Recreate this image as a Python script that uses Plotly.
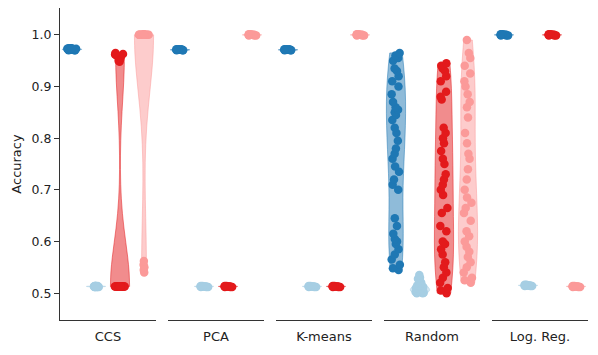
import plotly.graph_objects as go
from plotly.subplots import make_subplots

methods = ["CCS", "PCA", "K-means", "Random", "Log. Reg."]

# one colour per group (dark blue, light blue, red, light red)
colors = ["#1f78b4", "#a6cee3", "#e31a1c", "#fb9a99"]
fills = ["rgba(31,120,180,0.5)", "rgba(166,206,227,0.5)",
         "rgba(227,26,28,0.5)", "rgba(251,154,153,0.5)"]

# accuracy values, one list per group
ccs = [
    [0.971, 0.972, 0.973, 0.970, 0.974, 0.972, 0.971, 0.973, 0.972, 0.970,
     0.974, 0.971, 0.973, 0.972, 0.971, 0.973, 0.972, 0.970, 0.974, 0.972],
    [0.512, 0.513, 0.514, 0.513, 0.512, 0.514, 0.513, 0.512, 0.513, 0.514,
     0.513, 0.512, 0.514, 0.513, 0.512, 0.513, 0.514, 0.513, 0.512, 0.513],
    [0.965, 0.962, 0.958, 0.955, 0.952, 0.960, 0.963, 0.950, 0.957, 0.948,
     0.513, 0.513, 0.513, 0.513, 0.513, 0.513, 0.513, 0.513, 0.513, 0.513,
     0.513, 0.513, 0.513, 0.513, 0.513, 0.513, 0.513, 0.513, 0.513, 0.513,
     0.513, 0.513],
    [1.000, 1.000, 1.000, 1.000, 1.000, 1.000, 1.000, 1.000, 1.000, 1.000,
     1.000, 1.000, 1.000, 1.000, 1.000, 1.000, 1.000, 1.000, 1.000, 1.000,
     0.562, 0.555, 0.550, 0.545, 0.540],
]
pca = [
    [0.970, 0.971, 0.972, 0.971, 0.970, 0.972, 0.971, 0.970, 0.972, 0.971],
    [0.512, 0.513, 0.514, 0.513, 0.512, 0.513, 0.514, 0.513, 0.512, 0.513],
    [0.512, 0.513, 0.514, 0.513, 0.512, 0.513, 0.514, 0.513, 0.512, 0.513],
    [0.999, 1.000, 1.001, 1.000, 0.999, 1.000, 1.001, 1.000, 0.999, 1.000],
]
kmeans = [
    [0.970, 0.971, 0.972, 0.971, 0.970, 0.972, 0.971, 0.970, 0.972, 0.971],
    [0.512, 0.513, 0.514, 0.513, 0.512, 0.513, 0.514, 0.513, 0.512, 0.513],
    [0.512, 0.513, 0.514, 0.513, 0.512, 0.513, 0.514, 0.513, 0.512, 0.513],
    [0.999, 1.000, 1.001, 1.000, 0.999, 1.000, 1.001, 1.000, 0.999, 1.000],
]
random_ = [
    [0.965, 0.960, 0.955, 0.950, 0.935, 0.930, 0.920, 0.910, 0.900, 0.885,
     0.870, 0.860, 0.855, 0.850, 0.845, 0.835, 0.820, 0.810, 0.795, 0.780,
     0.770, 0.760, 0.745, 0.735, 0.720, 0.710, 0.700, 0.645, 0.630, 0.615,
     0.605, 0.600, 0.595, 0.585, 0.575, 0.565, 0.555, 0.548, 0.545],
    [0.535, 0.530, 0.528, 0.525, 0.522, 0.520, 0.518, 0.515, 0.513, 0.512,
     0.510, 0.509, 0.508, 0.507, 0.506, 0.505, 0.504, 0.503, 0.502, 0.501,
     0.500, 0.500, 0.505, 0.510, 0.515, 0.503],
    [0.945, 0.940, 0.935, 0.930, 0.920, 0.910, 0.890, 0.880, 0.875, 0.820,
     0.810, 0.800, 0.790, 0.775, 0.760, 0.750, 0.730, 0.720, 0.710, 0.700,
     0.690, 0.665, 0.655, 0.630, 0.620, 0.600, 0.595, 0.585, 0.575, 0.560,
     0.550, 0.540, 0.530, 0.520, 0.510, 0.505, 0.500],
    [0.990, 0.965, 0.955, 0.940, 0.925, 0.910, 0.900, 0.885, 0.870, 0.860,
     0.840, 0.810, 0.790, 0.770, 0.760, 0.740, 0.720, 0.700, 0.685, 0.675,
     0.665, 0.655, 0.640, 0.620, 0.610, 0.600, 0.590, 0.580, 0.570, 0.560,
     0.550, 0.540, 0.530, 0.525, 0.520],
]
logreg = [
    [0.999, 1.000, 1.001, 1.000, 0.999, 1.000, 1.001, 1.000, 0.999, 1.000],
    [0.514, 0.515, 0.516, 0.515, 0.514, 0.515, 0.516, 0.515, 0.514, 0.515],
    [0.999, 1.000, 1.001, 1.000, 0.999, 1.000, 1.001, 1.000, 0.999, 1.000],
    [0.512, 0.513, 0.514, 0.513, 0.512, 0.513, 0.514, 0.513, 0.512, 0.513],
]
panels = [ccs, pca, kmeans, random_, logreg]

# bimodal CCS groups need a wider kernel than the automatic one
ccs_bandwidth = {2: 0.085, 3: 0.11}

fig = make_subplots(rows=1, cols=5, shared_yaxes=True,
                    horizontal_spacing=0.0227)

for col, groups in enumerate(panels, start=1):
    for i, vals in enumerate(groups):
        kw = {}
        if col == 1 and i in ccs_bandwidth:
            kw["bandwidth"] = ccs_bandwidth[i]
        fig.add_trace(go.Violin(
            y=vals, x0=i, width=0.8,
            spanmode="hard", scalemode="width",
            line=dict(color=fills[i], width=1),
            fillcolor=fills[i],
            points="all", pointpos=0, jitter=0.55,
            marker=dict(color=colors[i], size=8.5, line=dict(width=0)),
            box_visible=False, meanline_visible=False,
            showlegend=False, hoveron="points", **kw,
        ), row=1, col=col)
    fig.update_xaxes(row=1, col=col, range=[-0.5, 3.5], automargin=False,
                     showticklabels=False, ticks="", showgrid=False,
                     zeroline=False, showline=True, linecolor="#333",
                     linewidth=1.2,
                     title=dict(text=methods[col - 1], standoff=11,
                                font=dict(size=13, color="#222")))

fig.update_yaxes(range=[0.448, 1.052], showgrid=False, zeroline=False,
                 automargin=False,
                 tickvals=[0.5, 0.6, 0.7, 0.8, 0.9, 1.0], tickformat=".1f")
fig.update_yaxes(row=1, col=1, showline=True, linecolor="#333", linewidth=1.2,
                 ticks="outside", ticklen=5, tickcolor="#333",
                 title=dict(text="Accuracy", standoff=6,
                            font=dict(size=13, color="#222")),
                 tickfont=dict(size=12.5, color="#222"))

fig.update_layout(
    width=598, height=355,
    margin=dict(l=60, r=10, t=8, b=35),
    plot_bgcolor="white", paper_bgcolor="white",
    violinmode="overlay",
    font=dict(family="DejaVu Sans", size=12, color="#222"),
)

# drop the default page margin so the figure sits at the window corner
fig.write_html("out.html", config={"displayModeBar": False},
               post_script="document.body.style.margin='0';")
